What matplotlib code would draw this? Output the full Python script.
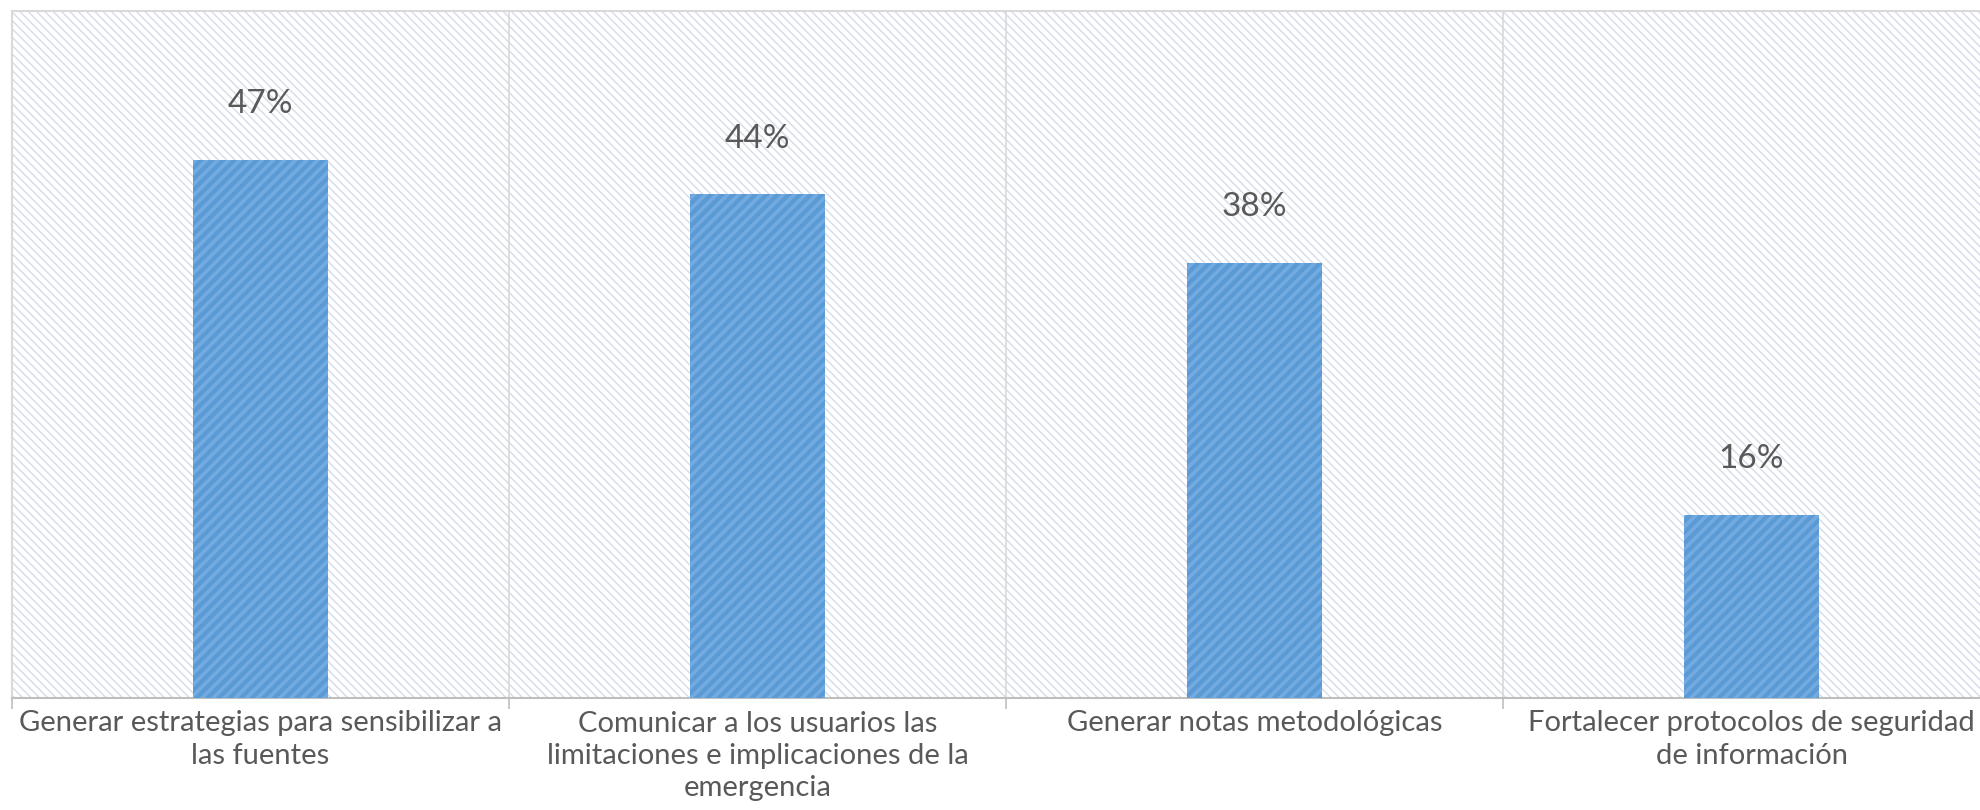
import matplotlib
matplotlib.use("Agg")
import matplotlib.pyplot as plt
from matplotlib.patches import Rectangle

# datos
categorias = [
    "Generar estrategias para sensibilizar a\nlas fuentes",
    "Comunicar a los usuarios las\nlimitaciones e implicaciones de la\nemergencia",
    "Generar notas metodológicas",
    "Fortalecer protocolos de seguridad\nde información",
]
valores = [0.47, 0.44, 0.38, 0.16]
etiquetas = ["47%", "44%", "38%", "16%"]

plt.rcParams['font.family'] = ['Lato', 'DejaVu Sans']
gris_texto = "#595959"

fig = plt.figure(figsize=(19.8, 8.1), dpi=100)
ax = fig.add_axes([12 / 1980, 112 / 810, 1988 / 1980, 687 / 810])
ax.set_facecolor("white")

# fondo rayado del área de trazado
plt.rcParams['hatch.linewidth'] = 1.0
fondo = Rectangle((0, 0), 1, 1, transform=ax.transAxes, facecolor="white",
                  edgecolor="#D5DBE8", hatch="\\\\\\\\", linewidth=0, zorder=0)
ax.add_patch(fondo)

# barras con rayas claras
x = list(range(len(valores)))
ax.bar(x, valores, width=0.27, color="#5B9BD5", edgecolor="none", zorder=3)
plt.rcParams['hatch.linewidth'] = 2.6
ax.bar(x, valores, width=0.27, color="none", edgecolor="#73AADF", hatch="///",
       linewidth=0, zorder=4)

for xi, v, t in zip(x, valores, etiquetas):
    ax.annotate(t, (xi, v), xytext=(0, 40), textcoords="offset points",
                ha="center", va="center", fontsize=24, color=gris_texto, zorder=5)

ax.set_xlim(-0.5, len(valores) - 0.5)
ax.set_ylim(0, 0.60)

# separadores de categorías
for s in [0.5, 1.5, 2.5]:
    ax.axvline(s, color="#D9D9D9", linewidth=1.2, zorder=2)

ax.set_xticks(x)
ax.set_xticklabels(categorias, fontsize=21, color=gris_texto, linespacing=1.3)
ax.tick_params(axis="x", which="major", length=0, pad=9)
ax.set_xticks([-0.5, 0.5, 1.5, 2.5, 3.5], minor=True)
ax.tick_params(axis="x", which="minor", length=8, width=1.2, color="#BFBFBF")
ax.set_yticks([])

for side in ["left", "top", "right"]:
    ax.spines[side].set_color("#D9D9D9")
    ax.spines[side].set_linewidth(1.5)
ax.spines["bottom"].set_color("#BFBFBF")
ax.spines["bottom"].set_linewidth(1.5)

fig.savefig("out.png", dpi=100)
